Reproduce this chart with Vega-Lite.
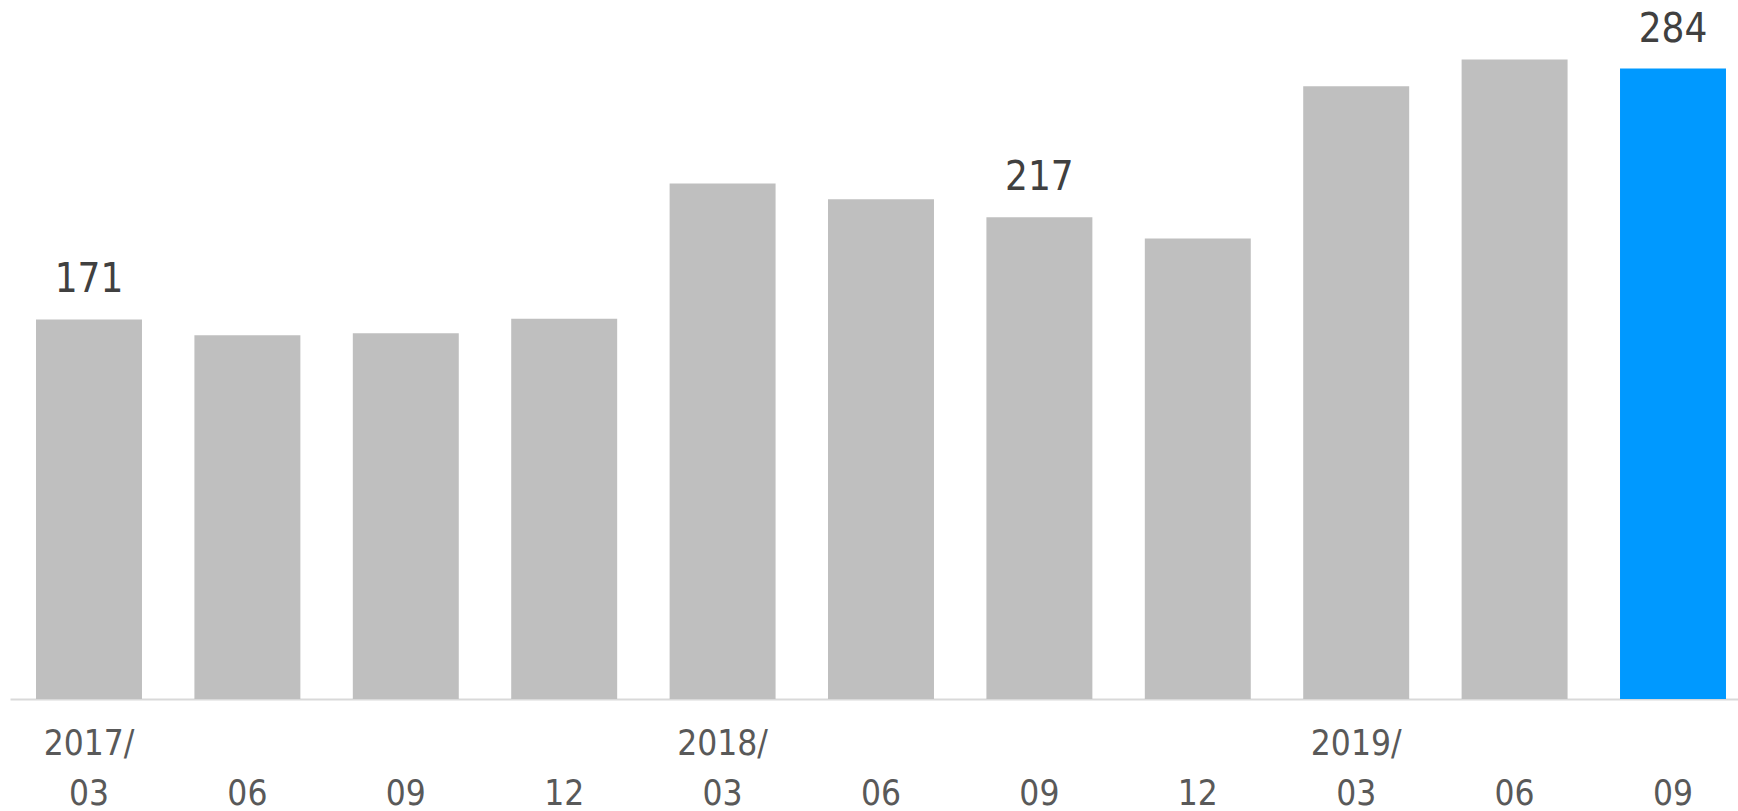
{
  "$schema": "https://vega.github.io/schema/vega-lite/v6.json",
  "width": 1728,
  "height": 666,
  "autosize": {"type": "none"},
  "padding": {"left": 10, "top": 33, "right": 0, "bottom": 112},
  "background": "white",
  "config": {"view": {"stroke": null}, "font": "DejaVu Sans Condensed"},
  "data": {
    "values": [
      {"period": "2017/03", "value": 171, "show": true},
      {"period": "2017/06", "value": 163.9, "show": false},
      {"period": "2017/09", "value": 164.8, "show": false},
      {"period": "2017/12", "value": 171.3, "show": false},
      {"period": "2018/03", "value": 232.2, "show": false},
      {"period": "2018/06", "value": 225.1, "show": false},
      {"period": "2018/09", "value": 217, "show": true},
      {"period": "2018/12", "value": 207.4, "show": false},
      {"period": "2019/03", "value": 276.0, "show": false},
      {"period": "2019/06", "value": 288.1, "show": false},
      {"period": "2019/09", "value": 284, "show": true}
    ]
  },
  "encoding": {
    "x": {
      "field": "period",
      "type": "nominal",
      "sort": null,
      "scale": {"paddingInner": 0.331, "paddingOuter": 0.12, "align": 0.684},
      "axis": {
        "title": null,
        "ticks": false,
        "domainColor": "#D9D9D9",
        "domainWidth": 2,
        "labelFont": "DejaVu Sans Condensed",
        "labelFontSize": 35,
        "labelColor": "#595959",
        "labelPadding": 27,
        "labelLineHeight": 50,
        "labelAngle": 0,
        "labelOverlap": false,
        "labelExpr": "substring(datum.value,5)=='03' ? [substring(datum.value,0,5), substring(datum.value,5)] : ['', substring(datum.value,5)]"
      }
    },
    "y": {
      "field": "value",
      "type": "quantitative",
      "scale": {"domain": [0, 300], "nice": false},
      "axis": null
    }
  },
  "layer": [
    {
      "mark": {"type": "bar"},
      "encoding": {
        "color": {
          "condition": {"test": "datum.period === '2019/09'", "value": "#0099FF"},
          "value": "#BFBFBF"
        }
      }
    },
    {
      "transform": [{"filter": "datum.show"}],
      "mark": {
        "type": "text",
        "dy": -27,
        "baseline": "alphabetic",
        "fontSize": 40,
        "color": "#404040",
        "font": "DejaVu Sans Condensed"
      },
      "encoding": {
        "text": {"field": "value", "type": "quantitative", "format": "d"}
      }
    }
  ]
}
